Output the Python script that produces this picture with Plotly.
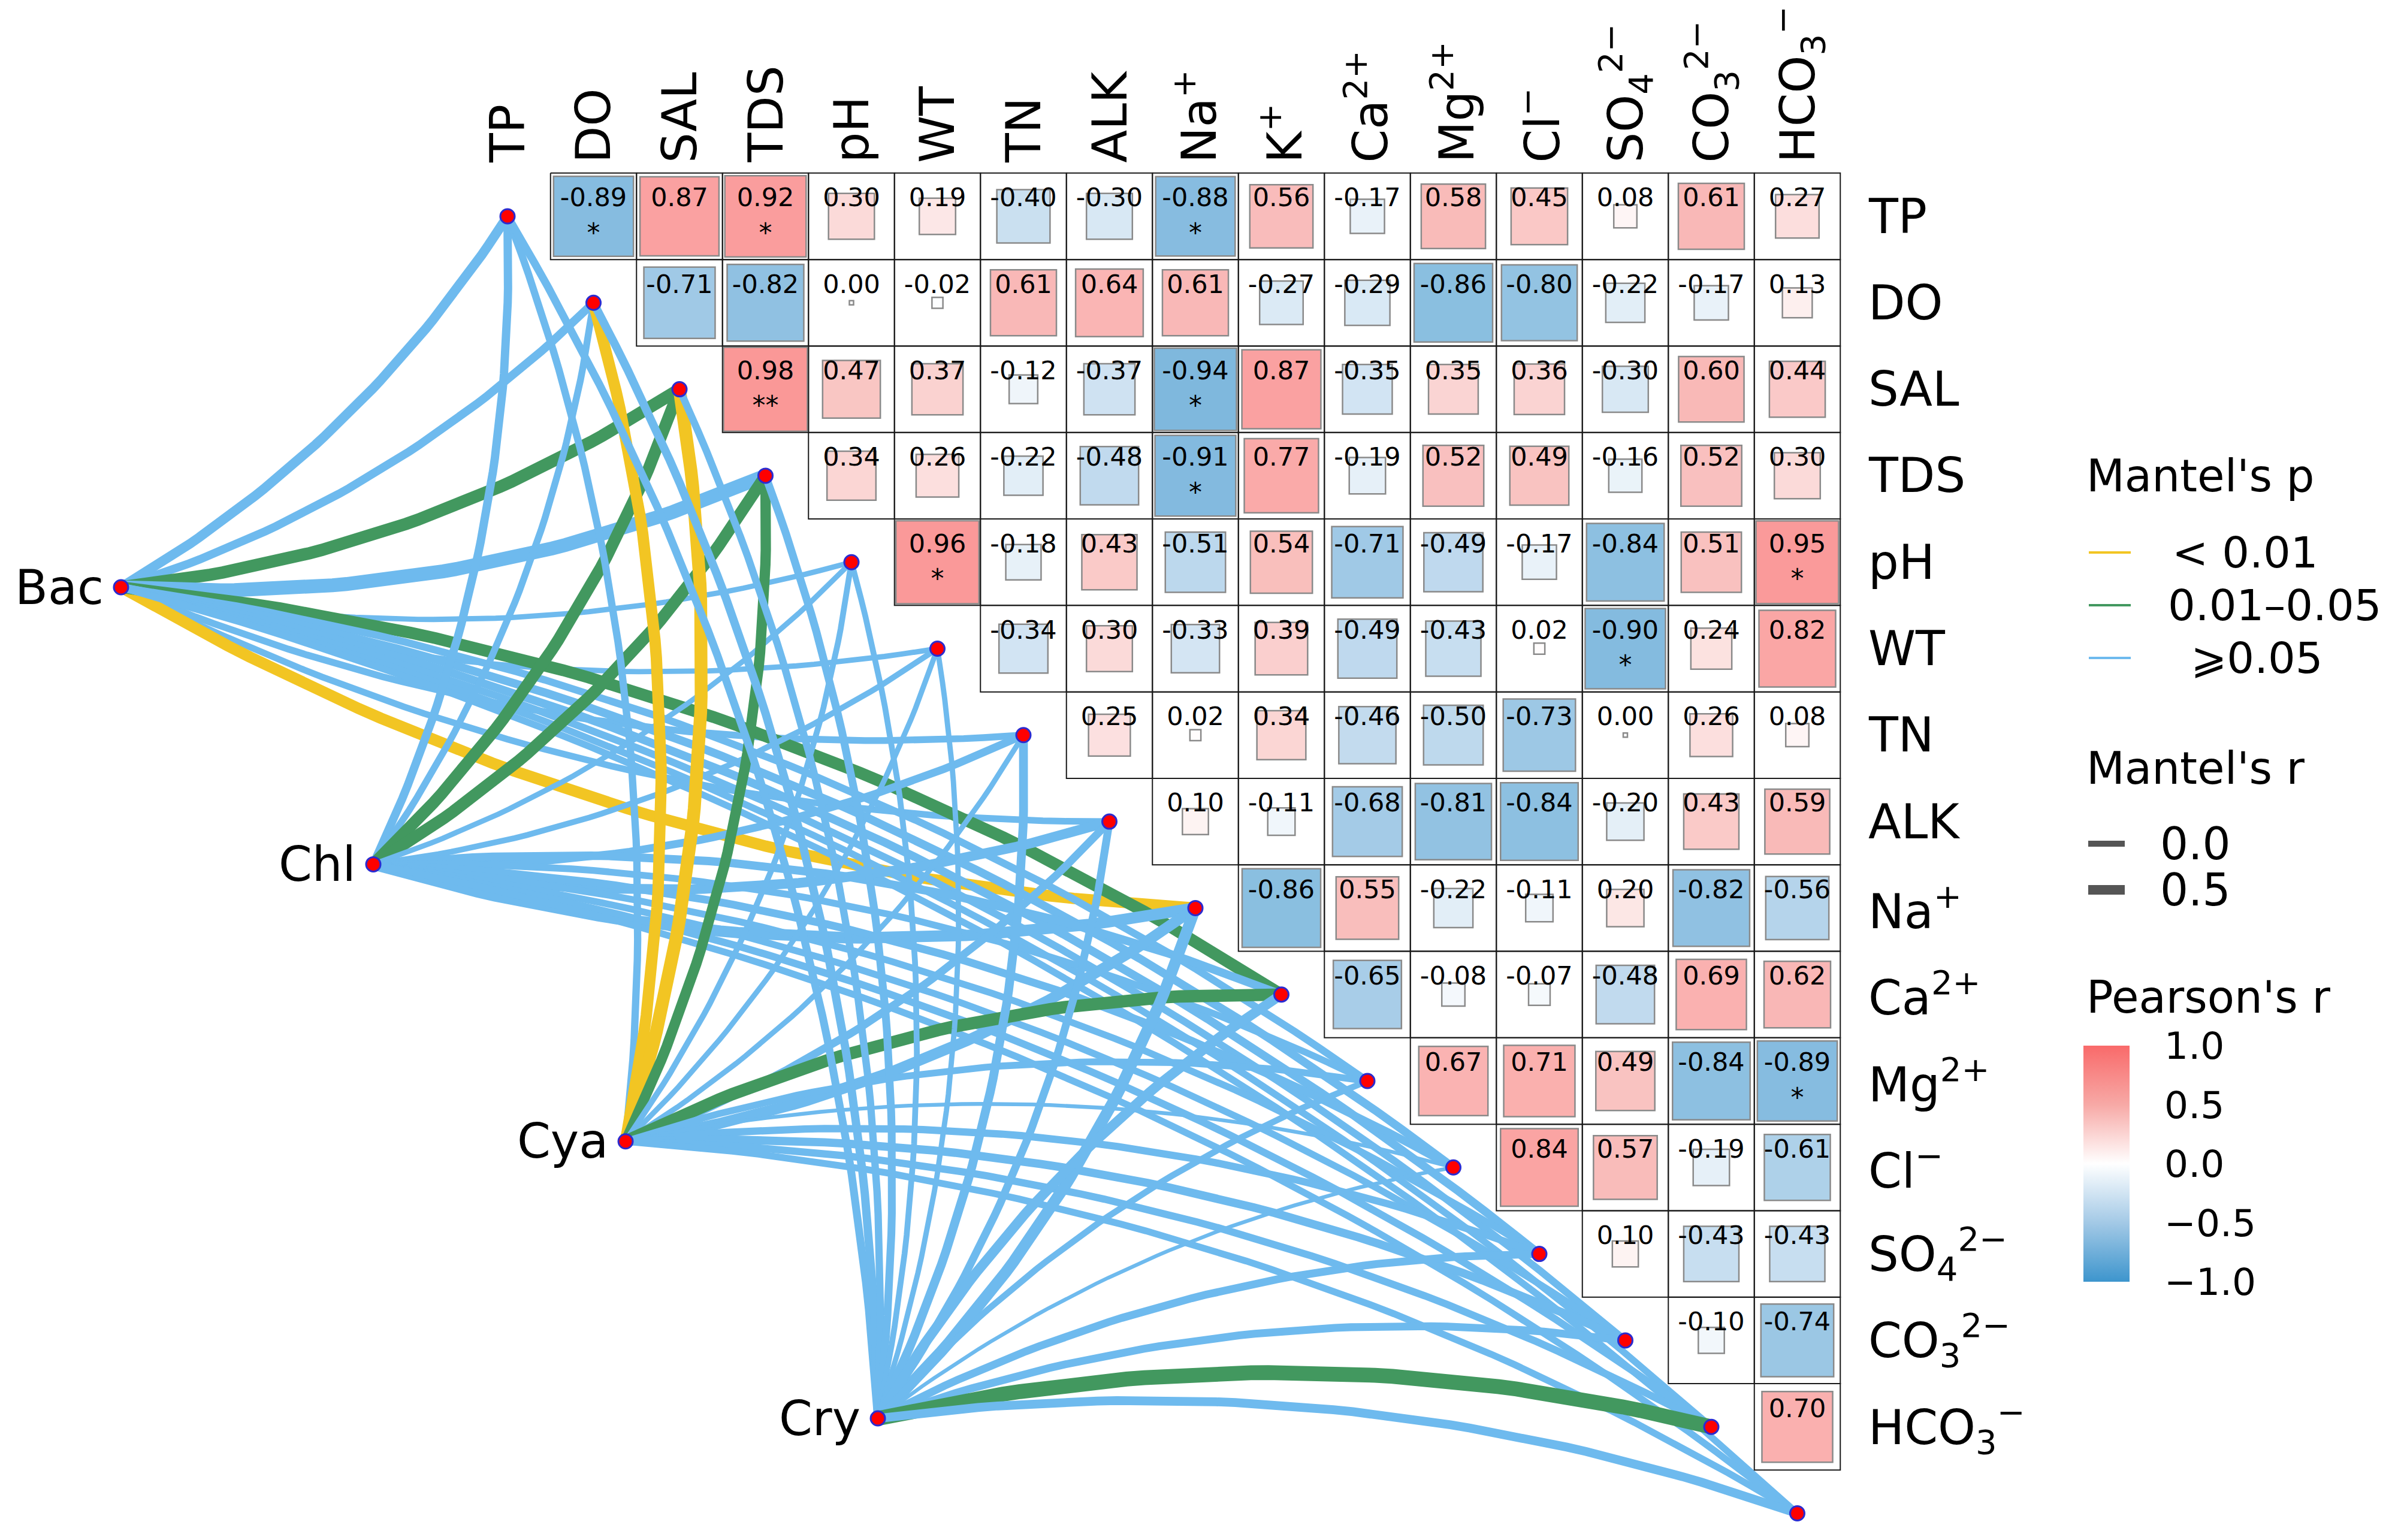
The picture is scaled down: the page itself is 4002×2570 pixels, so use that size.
import numpy as np
import plotly.graph_objects as go

# ---------------------------------------------------------------- data
variables = ["TP", "DO", "SAL", "TDS", "pH", "WT", "TN", "ALK",
             "Na+", "K+", "Ca2+", "Mg2+", "Cl-", "SO42-", "CO32-", "HCO3-"]

col_tick_labels = ["TP", "DO", "SAL", "TDS", "pH", "WT", "TN", "ALK",
                   "Na<sup>+</sup>", "K<sup>+</sup>", "Ca<sup>2+</sup>", "Mg<sup>2+</sup>",
                   "Cl<sup>−</sup>", "SO<sub>4</sub><sup>2−</sup>",
                   "CO<sub>3</sub><sup>2−</sup>", "HCO<sub>3</sub><sup>−</sup>"]

row_tick_labels = ["TP", "DO", "SAL", "TDS", "pH", "WT", "TN", "ALK",
                   "Na<sup>+</sup>", "Ca<sup>2+</sup>", "Mg<sup>2+</sup>", "Cl<sup>−</sup>",
                   "SO<sub>4</sub><sup>2−</sup>", "CO<sub>3</sub><sup>2−</sup>",
                   "HCO<sub>3</sub><sup>−</sup>"]

# Pearson's r (upper triangle): each row variable against the variables after it
r_TP = [-0.89, 0.87, 0.92, 0.30, 0.19, -0.40, -0.30, -0.88, 0.56, -0.17, 0.58, 0.45, 0.08, 0.61, 0.27]
r_DO = [-0.71, -0.82, 0.00, -0.02, 0.61, 0.64, 0.61, -0.27, -0.29, -0.86, -0.80, -0.22, -0.17, 0.13]
r_SAL = [0.98, 0.47, 0.37, -0.12, -0.37, -0.94, 0.87, -0.35, 0.35, 0.36, -0.30, 0.60, 0.44]
r_TDS = [0.34, 0.26, -0.22, -0.48, -0.91, 0.77, -0.19, 0.52, 0.49, -0.16, 0.52, 0.30]
r_pH = [0.96, -0.18, 0.43, -0.51, 0.54, -0.71, -0.49, -0.17, -0.84, 0.51, 0.95]
r_WT = [-0.34, 0.30, -0.33, 0.39, -0.49, -0.43, 0.02, -0.90, 0.24, 0.82]
r_TN = [0.25, 0.02, 0.34, -0.46, -0.50, -0.73, 0.00, 0.26, 0.08]
r_ALK = [0.10, -0.11, -0.68, -0.81, -0.84, -0.20, 0.43, 0.59]
r_Na = [-0.86, 0.55, -0.22, -0.11, 0.20, -0.82, -0.56]
r_K = [-0.65, -0.08, -0.07, -0.48, 0.69, 0.62]
r_Ca = [0.67, 0.71, 0.49, -0.84, -0.89]
r_Mg = [0.84, 0.57, -0.19, -0.61]
r_Cl = [0.10, -0.43, -0.43]
r_SO4 = [-0.10, -0.74]
r_CO3 = [0.70]
pearson_rows = [r_TP, r_DO, r_SAL, r_TDS, r_pH, r_WT, r_TN, r_ALK,
                r_Na, r_K, r_Ca, r_Mg, r_Cl, r_SO4, r_CO3]

# significance marks (row variable, column variable, mark)
pearson_stars = [("TP", "DO", "*"), ("TP", "TDS", "*"), ("TP", "Na+", "*"),
                 ("SAL", "TDS", "**"), ("SAL", "Na+", "*"), ("TDS", "Na+", "*"),
                 ("pH", "WT", "*"), ("pH", "HCO3-", "*"), ("WT", "SO42-", "*"),
                 ("Ca2+", "HCO3-", "*")]

# Mantel tests: one value per environmental variable (same order as `variables`)
species = ["Bac", "Chl", "Cya", "Cry"]
P_LOW, P_MID, P_HIGH = "< 0.01", "0.01–0.05", "⩾0.05"

mantel_r_Bac = [0.25, 0.20, 0.36, 0.42, 0.08, 0.08, 0.14, 0.13, 0.32, 0.34, 0.16, 0.20, 0.20, 0.16, 0.14, 0.14]
mantel_r_Chl = [0.20, 0.14, 0.34, 0.34, 0.08, 0.10, 0.18, 0.26, 0.32, 0.20, 0.14, 0.18, 0.14, 0.14, 0.16, 0.14]
mantel_r_Cya = [0.16, 0.32, 0.38, 0.28, 0.10, 0.08, 0.08, 0.18, 0.30, 0.36, 0.14, 0.02, 0.16, 0.20, 0.16, 0.14]
mantel_r_Cry = [0.18, 0.20, 0.16, 0.18, 0.10, 0.08, 0.22, 0.18, 0.32, 0.26, 0.12, 0.02, 0.18, 0.18, 0.46, 0.22]

mantel_p_Bac = [P_HIGH, P_HIGH, P_MID, P_HIGH, P_HIGH, P_HIGH, P_HIGH, P_HIGH,
                P_LOW, P_MID, P_HIGH, P_HIGH, P_HIGH, P_HIGH, P_HIGH, P_HIGH]
mantel_p_Chl = [P_HIGH, P_HIGH, P_MID, P_MID, P_HIGH, P_HIGH, P_HIGH, P_HIGH,
                P_HIGH, P_HIGH, P_HIGH, P_HIGH, P_HIGH, P_HIGH, P_HIGH, P_HIGH]
mantel_p_Cya = [P_HIGH, P_LOW, P_LOW, P_MID, P_HIGH, P_HIGH, P_HIGH, P_HIGH,
                P_HIGH, P_MID, P_HIGH, P_HIGH, P_HIGH, P_HIGH, P_HIGH, P_HIGH]
mantel_p_Cry = [P_HIGH, P_HIGH, P_HIGH, P_HIGH, P_HIGH, P_HIGH, P_HIGH, P_HIGH,
                P_HIGH, P_HIGH, P_HIGH, P_HIGH, P_HIGH, P_HIGH, P_MID, P_HIGH]

mantel_r = [mantel_r_Bac, mantel_r_Chl, mantel_r_Cya, mantel_r_Cry]
mantel_p = [mantel_p_Bac, mantel_p_Chl, mantel_p_Cya, mantel_p_Cry]

# ---------------------------------------------------------------- style / layout
FONT = "DejaVu Sans"
FIG_W, FIG_H = 3986, 2554
CELL_W, CELL_H = 143.5, 144.3          # pixel size of one matrix cell
ORIGIN_X, ORIGIN_Y = 839.0, 353.0      # pixel position of the first diagonal node

P_COLORS = {P_LOW: "#F2C523", P_MID: "#42985F", P_HIGH: "#6EBAEE"}
COLORSCALE = [[0.0, "#3D95CD"], [0.25, "#A3C9E6"], [0.5, "#FFFFFF"],
              [0.75, "#F7A9A6"], [1.0, "#F96A6A"]]

SRC_X0, SRC_Y0 = -4.495, 4.290          # first species node (data units)
SRC_DX, SRC_DY = 2.934, 3.204           # spacing between species nodes
CURV = 0.06


def px_to_x(px):
    return (px - ORIGIN_X) / CELL_W


def py_to_y(py):
    return (py - ORIGIN_Y) / CELL_H


def paper(px, py):
    return px / FIG_W, 1 - py / FIG_H


def link_width(r):
    return 5.5 + 42 * r


def curve(x0, y0, x1, y1, side, n=48):
    X0, Y0 = x0 * CELL_W, y0 * CELL_H
    X1, Y1 = x1 * CELL_W, y1 * CELL_H
    dx, dy = X1 - X0, Y1 - Y0
    L = np.hypot(dx, dy)
    nx, ny = -dy / L, dx / L            # right-hand side of travel (y downwards)
    h = 2 * CURV * L * side
    cx, cy = (X0 + X1) / 2 + nx * h, (Y0 + Y1) / 2 + ny * h
    t = np.linspace(0, 1, n)
    X = (1 - t) ** 2 * X0 + 2 * (1 - t) * t * cx + t ** 2 * X1
    Y = (1 - t) ** 2 * Y0 + 2 * (1 - t) * t * cy + t ** 2 * Y1
    return X / CELL_W, Y / CELL_H


fig = go.Figure()
n_var = len(variables)

# ---------------------------------------------------------------- links
for s, name in enumerate(species):
    sx, sy = SRC_X0 + s * SRC_DX, SRC_Y0 + s * SRC_DY
    for e in range(n_var):
        side = 1 if e <= 8 else -1
        xs, ys = curve(sx, sy, e, e, side)
        fig.add_trace(go.Scatter(
            x=xs, y=ys, mode="lines",
            line=dict(color=P_COLORS[mantel_p[s][e]], width=link_width(mantel_r[s][e])),
            hoverinfo="skip", showlegend=False))

# ---------------------------------------------------------------- nodes
node_x = list(range(n_var)) + [SRC_X0 + s * SRC_DX for s in range(len(species))]
node_y = list(range(n_var)) + [SRC_Y0 + s * SRC_DY for s in range(len(species))]
fig.add_trace(go.Scatter(
    x=node_x, y=node_y, mode="markers",
    marker=dict(size=24, color="#FF0000", line=dict(color="#2B2BD0", width=3)),
    hoverinfo="skip", showlegend=False))

# ---------------------------------------------------------------- matrix grid
gx, gy = [], []
for i, row in enumerate(pearson_rows):
    for k in range(len(row)):
        j = i + 1 + k
        gx += [j - 0.5, j + 0.5, j + 0.5, j - 0.5, j - 0.5, None]
        gy += [i - 0.5, i - 0.5, i + 0.5, i + 0.5, i - 0.5, None]
fig.add_trace(go.Scatter(x=gx, y=gy, mode="lines",
                         line=dict(color="#1a1a1a", width=2),
                         hoverinfo="skip", showlegend=False))

# ---------------------------------------------------------------- squares + text
sq_x, sq_y, sq_r = [], [], []
for i, row in enumerate(pearson_rows):
    for k, r in enumerate(row):
        sq_x.append(i + 1 + k)
        sq_y.append(i)
        sq_r.append(r)
sq_size = [max(np.sqrt(abs(r)) * CELL_W - 2, 7) for r in sq_r]

cb_len = 394
cb_cx, cb_cy = 3469, 1934
fig.add_trace(go.Scatter(
    x=sq_x, y=sq_y, mode="markers",
    marker=dict(symbol="square", size=sq_size, color=sq_r, colorscale=COLORSCALE,
                cmin=-1, cmax=1, line=dict(color="#5a5a5a", width=2.5),
                colorbar=dict(
                    x=cb_cx / FIG_W, xanchor="left", xpad=0,
                    y=1 - cb_cy / FIG_H, yanchor="middle", ypad=0,
                    lenmode="pixels", len=cb_len,
                    thicknessmode="pixels", thickness=77,
                    outlinewidth=0,
                    tickvals=[-1, -0.5, 0, 0.5, 1],
                    ticktext=["−1.0", "−0.5", "0.0", "0.5", "1.0"],
                    ticks="outside", ticklen=46, tickcolor="rgba(0,0,0,0)",
                    tickfont=dict(size=63, family=FONT, color="black"))),
    hoverinfo="skip", showlegend=False))

fig.add_trace(go.Scatter(
    x=sq_x, y=[y - 0.19 for y in sq_y], mode="text",
    text=[f"{r:.2f}" for r in sq_r],
    textfont=dict(size=43, family=FONT, color="black"),
    hoverinfo="skip", showlegend=False))

st_x = [variables.index(c) for _, c, _ in pearson_stars]
st_y = [variables.index(rw) + 0.22 for rw, _, _ in pearson_stars]
fig.add_trace(go.Scatter(
    x=st_x, y=st_y, mode="text", text=[m for _, _, m in pearson_stars],
    textfont=dict(size=44, family=FONT, color="black"),
    hoverinfo="skip", showlegend=False))

# ---------------------------------------------------------------- labels
ann = []
for j, lab in enumerate(col_tick_labels):
    ann.append(dict(x=j, y=py_to_y(266), xref="x", yref="y", text=lab, textangle=-90,
                    xanchor="center", yanchor="bottom", showarrow=False,
                    font=dict(size=80, family=FONT, color="black")))
for i, lab in enumerate(row_tick_labels):
    ann.append(dict(x=px_to_x(3108), y=i, xref="x", yref="y", text=lab,
                    xanchor="left", yanchor="middle", showarrow=False,
                    font=dict(size=80, family=FONT, color="black")))
for s, name in enumerate(species):
    ann.append(dict(x=SRC_X0 + s * SRC_DX - 0.19, y=SRC_Y0 + s * SRC_DY, xref="x", yref="y",
                    text=name, xanchor="right", yanchor="middle", showarrow=False,
                    font=dict(size=80, family=FONT, color="black")))

# ---------------------------------------------------------------- legends
shapes = []


def legend_text(px, py, text, size, anchor="left"):
    x, y = paper(px, py)
    ann.append(dict(x=x, y=y, xref="paper", yref="paper", text=text, xanchor=anchor,
                    yanchor="middle", showarrow=False,
                    font=dict(size=size, family=FONT, color="black")))


def legend_line(px0, px1, py, color, width):
    x0, y = paper(px0, py)
    x1, _ = paper(px1, py)
    shapes.append(dict(type="line", xref="paper", yref="paper", x0=x0, x1=x1, y0=y, y1=y,
                       line=dict(color=color, width=width)))


legend_text(3472, 786, "Mantel's p", 74)
for py, lab, cx in [(914, P_LOW, 3739), (1002, P_MID, 3788), (1090, P_HIGH, 3758)]:
    legend_line(3478, 3548, py, P_COLORS[lab], 4)
    legend_text(cx, py, lab, 72, anchor="center")

legend_text(3472, 1274, "Mantel's r", 74)
for py, lab, w in [(1400, "0.0", 10), (1477, "0.5", 16)]:
    legend_line(3477, 3538, py, "#555555", w)
    legend_text(3656, py, lab, 74, anchor="center")

legend_text(3472, 1656, "Pearson's r", 74)
for v in [-0.5, 0, 0.5]:
    py = cb_cy - v * cb_len / 2
    legend_line(cb_cx, cb_cx + 15, py, "white", 2)
    legend_line(cb_cx + 62, cb_cx + 77, py, "white", 2)

fig.update_layout(
    width=FIG_W, height=FIG_H, autosize=False,
    margin=dict(l=0, r=0, t=0, b=0, pad=0),
    paper_bgcolor="white", plot_bgcolor="white",
    xaxis=dict(range=[px_to_x(0), px_to_x(FIG_W)], visible=False, fixedrange=True),
    yaxis=dict(range=[py_to_y(FIG_H), py_to_y(0)], visible=False, fixedrange=True),
    annotations=ann, shapes=shapes, showlegend=False,
    font=dict(family=FONT),
)

fig.write_html("out.html")
